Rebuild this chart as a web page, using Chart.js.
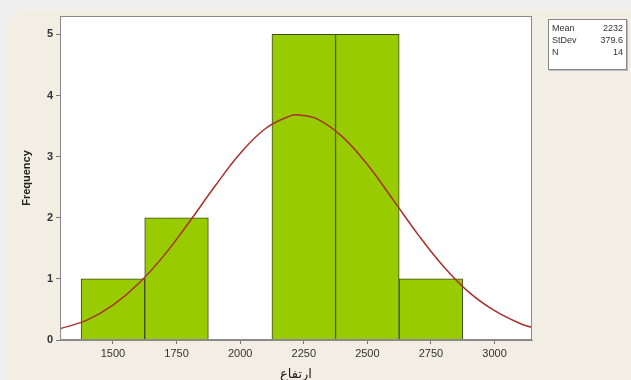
<!DOCTYPE html>
<html>
<head>
<meta charset="utf-8">
<script src="https://cdn.jsdelivr.net/npm/chart.js@4/dist/chart.umd.min.js"></script>
<style>
  html, body { margin: 0; padding: 0; background: #efefef; }
  #wrap { position: relative; width: 631px; height: 380px; overflow: hidden; }
  #panel { position: absolute; left: 8px; top: 10px; width: 640px; height: 400px;
           background: #f3eee3; border-radius: 16px; }
  #chart { position: absolute; left: 0; top: 0; }
  #stats { position: absolute; left: 548px; top: 19px; width: 79px; height: 51px;
           background: #fff; border: 1px solid #888; box-shadow: 1px 1px 0 #bbb;
           font-family: "Liberation Sans", Arial, sans-serif; font-size: 9px; color: #333;
           line-height: 12px; padding: 2px 3px; box-sizing: border-box; }
  #stats div { display: flex; justify-content: space-between; }
</style>
</head>
<body>
<div id="wrap">
  <div id="panel"></div>
  <canvas id="chart" width="631" height="380"></canvas>
  <div id="stats">
    <div><span>Mean</span><span>2232</span></div>
    <div><span>StDev</span><span>379.6</span></div>
    <div><span>N</span><span>14</span></div>
  </div>
</div>
<script>
// histogram bins (centres) and counts
var binCenters = [1500, 1750, 2000, 2250, 2500, 2750];
var counts = [1, 2, 0, 5, 5, 1];

// fitted normal curve
var curveX = [1290, 1400, 1500, 1600, 1700, 1800, 1900, 2000, 2100, 2200, 2232, 2300, 2400, 2500, 2600, 2700, 2800, 2900, 3000, 3100, 3150];
var curveY = [0.18, 0.33, 0.57, 0.92, 1.38, 1.93, 2.51, 3.05, 3.46, 3.67, 3.68, 3.62, 3.33, 2.87, 2.30, 1.72, 1.20, 0.78, 0.48, 0.27, 0.20];

var xTicks = [1500, 1750, 2000, 2250, 2500, 2750, 3000];

const plotBorder = {
    id: 'plotBorder',
    afterDraw(chart) {
        const { ctx, chartArea: { left, top, width, height } } = chart;
        ctx.save();
        ctx.strokeStyle = '#8a8a8a';
        ctx.lineWidth = 1;
        ctx.strokeRect(left + 0.5, top + 0.5, width - 1, height - 1);
        ctx.restore();
    }
};
const whiteArea = {
    id: 'whiteArea',
    beforeDraw(chart) {
        const { ctx, chartArea: { left, top, width, height } } = chart;
        ctx.save();
        ctx.fillStyle = '#ffffff';
        ctx.fillRect(left, top, width, height);
        ctx.restore();
    }
};

var barData = binCenters.map(function (c, i) { return { x: c, y: counts[i] }; });
var lineData = curveX.map(function (c, i) { return { x: c, y: curveY[i] }; });

new Chart(document.getElementById('chart'), {
    data: {
        datasets: [{
            type: 'line',
            data: lineData,
            borderColor: '#a8302c',
            borderWidth: 1.5,
            pointRadius: 0,
            tension: 0.4,
            fill: false,
            order: 0
        }, {
            type: 'bar',
            data: barData,
            backgroundColor: '#99cc00',
            borderColor: '#3f4a22',
            borderWidth: 1,
            barPercentage: 1,
            categoryPercentage: 1,
            order: 1
        }]
    },
    options: {
        responsive: false,
        animation: false,
        layout: { padding: { top: 16, right: 99, left: 0, bottom: 0 } },
        plugins: { legend: { display: false }, tooltip: { enabled: false } },
        scales: {
            x: {
                type: 'linear',
                offset: false,
                min: 1292,
                max: 3147,
                afterBuildTicks: function (scale) {
                    scale.ticks = xTicks.map(function (v) { return { value: v }; });
                },
                afterFit: function (scale) { scale.height = 40; },
                grid: { drawOnChartArea: false, tickLength: 4, color: '#777', offset: false },
                border: { color: '#8a8a8a' },
                ticks: {
                    color: '#333',
                    padding: 3,
                    maxRotation: 0,
                    font: { family: 'Liberation Sans', size: 11 },
                    callback: function (v) { return String(v); }
                },
                title: {
                    display: true,
                    text: 'ارتفاع',
                    color: '#222',
                    padding: { top: 0, bottom: -2 },
                    font: { family: 'DejaVu Sans', size: 13 }
                }
            },
            y: {
                min: 0,
                max: 5.3,
                afterBuildTicks: function (scale) {
                    scale.ticks = [0, 1, 2, 3, 4, 5].map(function (v) { return { value: v }; });
                },
                afterFit: function (scale) { scale.width = 60; },
                grid: { drawOnChartArea: false, tickLength: 4, color: '#777' },
                border: { color: '#8a8a8a' },
                ticks: {
                    color: '#333',
                    padding: 3,
                    font: { family: 'Liberation Sans', size: 11, weight: 'bold' }
                },
                title: {
                    display: true,
                    text: 'Frequency',
                    color: '#222',
                    padding: { top: 20, bottom: 0 },
                    font: { family: 'Liberation Sans', size: 11, weight: 'bold' }
                }
            }
        }
    },
    plugins: [whiteArea, plotBorder]
});
</script>
</body>
</html>
